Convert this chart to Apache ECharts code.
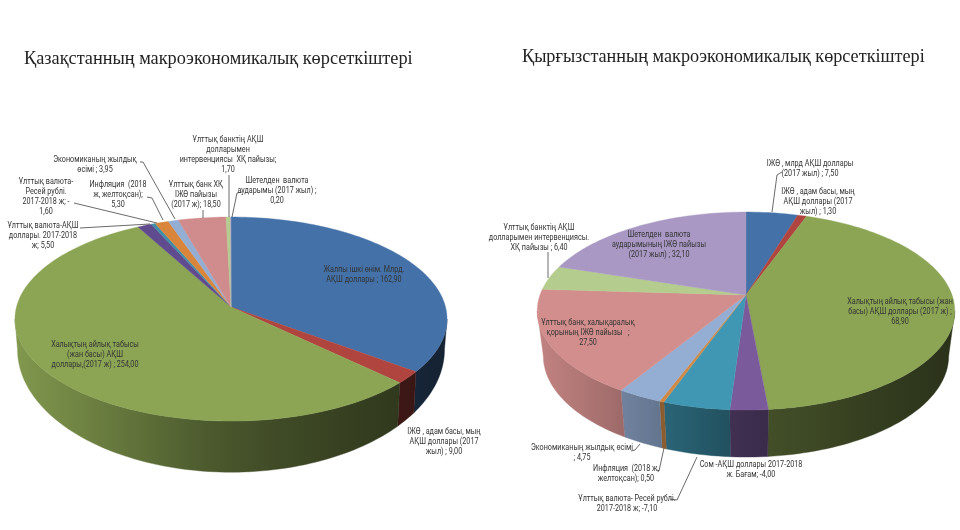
<!DOCTYPE html>
<html>
<head>
<meta charset="utf-8">
<style>html,body{margin:0;padding:0;background:#fff}#c{width:960px;height:530px}</style>
<script src="https://cdn.jsdelivr.net/npm/echarts@6/dist/echarts.min.js"></script>
</head>
<body>
<div id="c"></div>
<script>
const kzTitle = 'Қазақстанның макроэкономикалық көрсеткіштері';
const kgTitle = 'Қырғызстанның макроэкономикалық көрсеткіштері';

const kzValues = [162.9, 9.0, 254.0, 5.5, 1.6, 5.3, 3.95, 18.5, 1.7, 0.2];
const kzLabels = [
  'Жалпы ішкі өнім. Млрд.\nАҚШ доллары ; 162,90',
  'ІЖӨ , адам басы, мың\nАҚШ доллары (2017\nжыл) ; 9,00',
  'Халықтың айлық табысы\n(жан басы) АҚШ\nдоллары,(2017 ж) ; 254,00',
  'Ұлттық валюта-АҚШ\nдоллары. 2017-2018\nж; 5,50',
  'Ұлттық валюта-\nРесей рублі.\n2017-2018 ж; -\n1,60',
  'Инфляция  (2018\nж, желтоқсан);\n5,30',
  'Экономиканың жылдық\nөсімі ; 3,95',
  'Ұлттық банк ХҚ\nІЖӨ пайызы\n(2017 ж); 18,50',
  'Ұлттық банктің АҚШ\nдолларымен\nинтервенциясы  ХҚ пайызы;\n1,70',
  'Шетелден  валюта\nаударымы (2017 жыл) ;\n0,20'
];

const kgValues = [7.5, 1.3, 68.9, -4.0, -7.1, 0.5, 4.75, 27.5, 6.4, 32.1];
const kgLabels = [
  'ІЖӨ , млрд АҚШ доллары\n(2017 жыл) ; 7,50',
  'ІЖӨ , адам басы, мың\nАҚШ доллары (2017\nжыл) ; 1,30',
  'Халықтың айлық табысы (жан\nбасы) АҚШ доллары (2017 ж) ;\n68,90',
  'Сом -АҚШ доллары 2017-2018\nж. Бағам; -4,00',
  'Ұлттық валюта- Ресей рублі.\n2017-2018 ж; -7,10',
  'Инфляция  (2018 ж,\nжелтоқсан); 0,50',
  'Экономиканың жылдық өсімі\n; 4,75',
  'Ұлттық банк, халықаралық\nқорының ІЖӨ пайызы   ;\n27,50',
  'Ұлттық банктің АҚШ\nдолларымен интервенциясы.\nХҚ пайызы ; 6,40',
  'Шетелден  валюта\nаударымының ІЖӨ пайызы\n(2017 жыл) ; 32,10'
];

// ---- styling and layout, kept apart from the values ----
const kzColors = ['#4472a8','#b0443f','#8ca554','#5f4b8e','#3f8fa8','#d9853b','#94add3','#d08c8c','#b4cc8e','#b0a8c4'];
const kgColors = ['#4472a8','#b0443f','#8ca554','#7b5a9c','#3f97b3','#d08a45','#94add3','#d28e8c','#b4cc8e','#a898c3'];

const kzGeom = {cx:231, cy:307, A:214.5, B:100.6, q:0.118, Ab:212, Bb:121, by:335};
const kgGeom = {cx:746, cy:295, A:206,   B:96.4,  q:0.162, Ab:200, Bb:98.5, by:339.5};

// first-line centre of each label, and its leader line
const kzNotes = [
  {x:364,y:270},
  {x:444,y:432},
  {x:95,y:345},
  {x:43,y:226,line:[[80,228],[150,224]]},
  {x:46,y:182,line:[[74,203],[157,223]]},
  {x:118,y:185,line:[[147,197],[152,198],[163,220]]},
  {x:95,y:160,line:[[140,162],[143,162],[175,219]]},
  {x:196,y:185,line:[[203,210],[203,218]]},
  {x:228,y:140,line:[[229,175],[229,217]]},
  {x:277,y:181,line:[[242,192],[237,193],[232,217]]}
];
const kgNotes = [
  {x:810,y:164,line:[[782,172],[777,175],[772,212]]},
  {x:818,y:192},
  {x:900,y:302},
  {x:751,y:465},
  {x:627,y:499,line:[[670,499],[677,500],[697,457]]},
  {x:626,y:469,line:[[657,470],[659,471],[664,448]]},
  {x:582,y:448,line:[[631,451],[635,450],[640,444]]},
  {x:588,y:323},
  {x:539,y:228,line:[[548,252],[548,278]]},
  {x:659,y:235}
];

const RAD = Math.PI/180;
function topPoint(g,t){const s=Math.sin(t*RAD),c=Math.cos(t*RAD),d=1+g.q*c;
  return [g.cx+g.A*s/d, g.cy-g.B*c/d];}
function botPoint(g,t){const s=Math.sin(t*RAD),c=Math.cos(t*RAD),d=1+g.q*c;
  return [g.cx+g.Ab*s/d, g.by-g.Bb*c/d];}
function shade(hex,f){const n=parseInt(hex.slice(1),16);
  const r=(n>>16)&255,gg=(n>>8)&255,b=n&255;
  return 'rgb('+Math.round(r*f)+','+Math.round(gg*f)+','+Math.round(b*f)+')';}
function wallFactor(s){return s<0 ? 0.5-0.42*s : 0.5-0.2*s;}
function bounds(values){
  const abs=values.map(Math.abs), sum=abs.reduce((a,b)=>a+b,0);
  let acc=0; return abs.map(v=>{const a=acc/sum*360; acc+=v; return [a,acc/sum*360];});
}
function samples(a,b){const n=Math.max(2,Math.ceil((b-a)/1.5)+1),o=[];
  for(let i=0;i<n;i++)o.push(a+(b-a)*i/(n-1));return o;}

function topSeries(g,values,colors){
  const bs=bounds(values);
  return {type:'custom',coordinateSystem:'none',z:3,silent:true,
    data:values.map((v,i)=>[i,v]),
    renderItem:(p,api)=>{
      const i=api.value(0),[a,b]=bs[i];
      const pts=[[g.cx,g.cy]].concat(samples(a,b).map(t=>topPoint(g,t)));
      return {type:'polygon',shape:{points:pts},
        style:{fill:colors[i],stroke:colors[i],lineWidth:0.4}};
    }};
}
function wallSeries(g,values,colors){
  const bs=bounds(values), lim=Math.acos(-g.q)/RAD;
  return {type:'custom',coordinateSystem:'none',z:2,silent:true,
    data:values.map((v,i)=>[i,v]),
    renderItem:(p,api)=>{
      const i=api.value(0);
      const a=Math.max(bs[i][0],lim), b=Math.min(bs[i][1],360-lim);
      if(b<=a) return {type:'group',children:[]};
      const ts=samples(a,b);
      const up=ts.map(t=>topPoint(g,t)), dn=ts.map(t=>botPoint(g,t)).reverse();
      const xs=up.map(q=>q[0]).concat(dn.map(q=>q[0]));
      const x0=Math.min(...xs), x1=Math.max(...xs);
      const stops=[];
      for(let k=0;k<=6;k++){const x=x0+(x1-x0)*k/6;
        stops.push({offset:k/6,color:shade(colors[i],wallFactor((x-g.cx)/g.A))});}
      const fill=new echarts.graphic.LinearGradient(x0,0,Math.max(x1,x0+1),0,stops,true);
      return {type:'polygon',shape:{points:up.concat(dn)},
        style:{fill:fill,stroke:fill,lineWidth:0.4}};
    }};
}
function noteSeries(labels,notes){
  const LH=10;
  return {type:'custom',coordinateSystem:'none',z:5,silent:true,
    data:labels.map((l,i)=>[i]),
    renderItem:(p,api)=>{
      const i=api.value(0),n=notes[i],ch=[];
      if(n.line) ch.push({type:'polyline',shape:{points:n.line},
        style:{fill:null,stroke:'#444',lineWidth:0.8}});
      ch.push({type:'text',x:n.x,y:n.y-LH/2,scaleX:0.8,style:{text:labels[i],align:'center',verticalAlign:'top',
        fontFamily:'Roboto',fontSize:9,lineHeight:LH,fill:'#333'}});
      return {type:'group',children:ch};
    }};
}

const chart=echarts.init(document.getElementById('c'),null,{renderer:'canvas'});
chart.setOption({
  animation:false,
  backgroundColor:'#fff',
  title:[
    {text:kzTitle,left:24,top:50,padding:0,textStyle:{fontFamily:'"Liberation Serif"',fontSize:18.3,fontWeight:'normal',color:'#222'}},
    {text:kgTitle,left:522,top:48,padding:0,textStyle:{fontFamily:'"Liberation Serif"',fontSize:18.2,fontWeight:'normal',color:'#222'}}
  ],
  series:[
    wallSeries(kzGeom,kzValues,kzColors),
    topSeries(kzGeom,kzValues,kzColors),
    noteSeries(kzLabels,kzNotes),
    wallSeries(kgGeom,kgValues,kgColors),
    topSeries(kgGeom,kgValues,kgColors),
    noteSeries(kgLabels,kgNotes)
  ]
});
</script>
</body>
</html>
